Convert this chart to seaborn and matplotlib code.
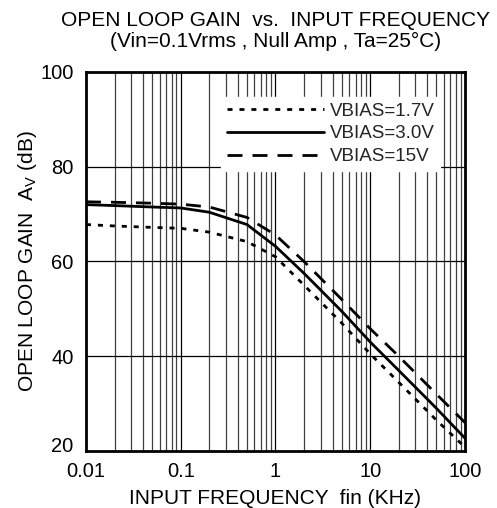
import matplotlib
matplotlib.use("Agg")
import matplotlib.pyplot as plt
import matplotlib.transforms as mtransforms
import seaborn as sns
import pandas as pd
from matplotlib.ticker import FixedLocator, NullFormatter

sns.set_theme(style="white")
plt.rcParams['font.family'] = ['Liberation Sans', 'DejaVu Sans']

freq = [0.01, 0.02, 0.05, 0.1, 0.2, 0.5, 1, 2, 5, 10, 20, 50, 100]
gain_17 = [67.8, 67.5, 67.2, 67.0, 66.2, 64.2, 61.0, 55.0, 47.0, 40.5, 34.5, 26.5, 20.8]
gain_30 = [72.0, 71.8, 71.5, 71.3, 70.4, 67.8, 63.2, 57.5, 49.5, 43.0, 37.0, 29.0, 22.7]
gain_15 = [72.6, 72.5, 72.3, 72.1, 71.5, 69.3, 65.6, 60.0, 52.0, 45.8, 40.0, 32.0, 26.0]
series_names = ["VBIAS=1.7V", "VBIAS=3.0V", "VBIAS=15V"]
x_ticks = [0.01, 0.1, 1, 10, 100]
x_tick_labels = ["0.01", "0.1", "1", "10", "100"]
y_ticks = [20, 40, 60, 80, 100]

df = pd.DataFrame({
    "freq": freq * 3,
    "gain": gain_17 + gain_30 + gain_15,
    "series": sum([[n] * len(freq) for n in series_names], []),
})

fig = plt.figure(figsize=(4.97, 5.08), dpi=100)
ax = fig.add_axes([0.173, 0.1122, 0.7626, 0.7461])

dash_styles = {
    "VBIAS=1.7V": (1.8, 2.5),
    "VBIAS=3.0V": "",
    "VBIAS=15V": (5.4, 3.6),
}
sns.lineplot(data=df, x="freq", y="gain", hue="series", style="series",
             palette=["black"] * 3, dashes=dash_styles, linewidth=2.0,
             ax=ax, legend=True, zorder=3)

ax.set_xscale("log")
ax.set_xlim(0.01, 100)
ax.set_ylim(20, 100)

# grid
minor = []
for d in [0.01, 0.1, 1, 10]:
    for m in range(2, 10):
        minor.append(d * m)
for v in minor:
    ax.axvline(v, color="#404040", lw=0.9, zorder=1)
for v in x_ticks[1:-1]:
    ax.axvline(v, color="black", lw=0.9, zorder=1)
for v in y_ticks[1:-1]:
    ax.axhline(v, color="black", lw=0.9, zorder=1)

ax.xaxis.set_major_locator(FixedLocator(x_ticks))
ax.set_xticklabels(x_tick_labels)
ax.xaxis.set_minor_formatter(NullFormatter())
ax.set_yticks(y_ticks)
ax.tick_params(axis="both", which="both", length=0, labelsize=14.5, colors="black")
ax.tick_params(axis="x", pad=8)
ax.tick_params(axis="y", pad=9)
# lift the bottom y label slightly, as in the reference
ylabs = ax.get_yticklabels()
ylabs[0].set_transform(ylabs[0].get_transform() +
                       mtransforms.ScaledTranslation(0, 7 / 100, fig.dpi_scale_trans))
for s in ax.spines.values():
    s.set_color("black")
    s.set_linewidth(2.0)
    s.set_zorder(5)

ax.set_xlabel("INPUT FREQUENCY  fin (KHz)", fontsize=15, color="black", labelpad=6)
ax.set_ylabel(r"OPEN LOOP GAIN  A$_\mathregular{V}$ (dB)", fontsize=15, color="black", labelpad=1)
fig.text(0.554, 1 - 20 / 508, "OPEN LOOP GAIN  vs.  INPUT FREQUENCY",
         ha="center", va="center", fontsize=15, color="black")
fig.text(0.554, 1 - 41 / 508, "(Vin=0.1Vrms , Null Amp , Ta=25°C)",
         ha="center", va="center", fontsize=15, color="black")

leg = ax.legend(loc="upper right", bbox_to_anchor=(0.935, 0.934), frameon=True,
                facecolor="white", edgecolor="white", framealpha=1,
                fontsize=13.5, handlelength=5.2, handletextpad=0.3,
                labelspacing=0.3, borderpad=0.3, borderaxespad=0)
leg.set_zorder(4)
for line in leg.get_lines():
    line.set_linewidth(2.0)
fig.savefig("out.png", dpi=100)
